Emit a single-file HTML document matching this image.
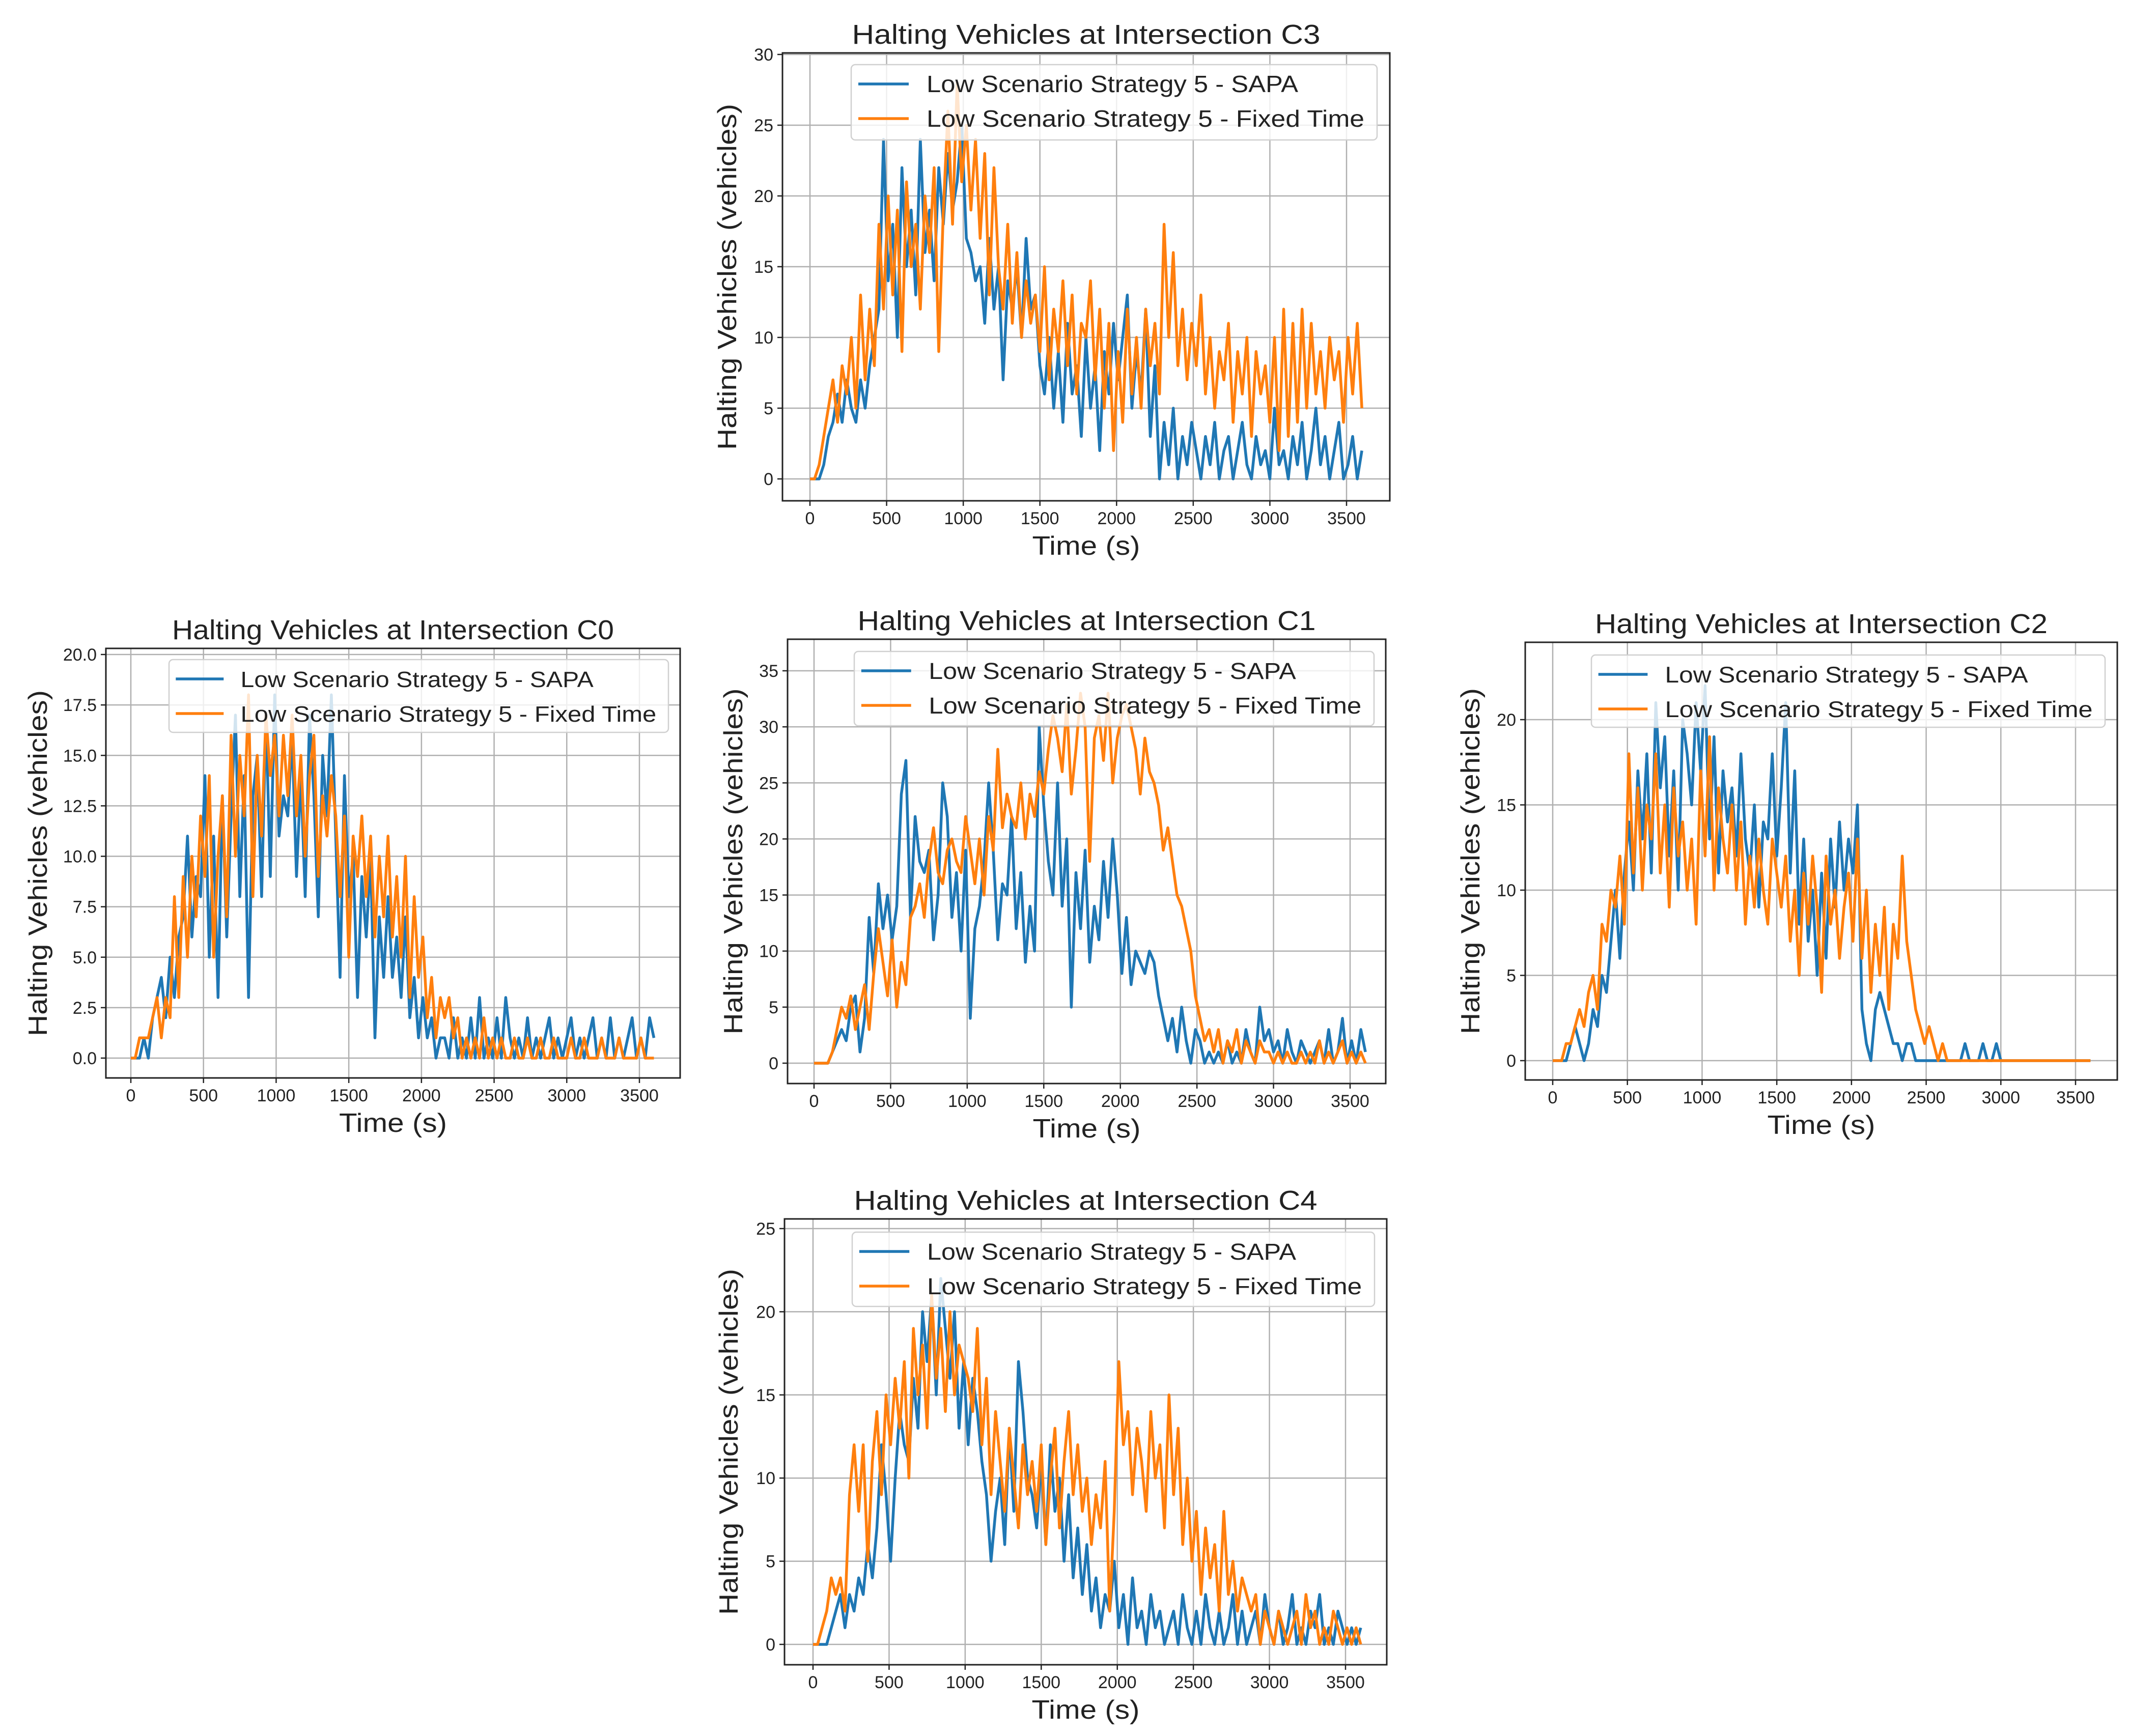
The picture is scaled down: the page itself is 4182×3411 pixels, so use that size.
<!DOCTYPE html>
<html><head><meta charset="utf-8">
<style>
html,body{margin:0;padding:0;background:#fff;}
svg{display:block;}
text{font-family:"Liberation Sans","DejaVu Sans",sans-serif;fill:#222;}
</style></head>
<body>
<svg id="fig" xmlns="http://www.w3.org/2000/svg" width="4182" height="3411" viewBox="0 0 4182 3411"></svg>
<script>
// ---- data (time step 30 s, 0..3600) ----
const timeStep = 30;
const xTickVals = [0,500,1000,1500,2000,2500,3000,3500];
const seriesNames = ["Low Scenario Strategy 5 - SAPA","Low Scenario Strategy 5 - Fixed Time"];

const c3Sapa = [0,0,0,1,3,4,6,4,7,5,4,7, 5,8,10,12,24,14,18,10,22,15,19,13, 24,16,19,14,22,18,23,19,21,25,17,16, 14,15,11,17,12,15,7,14,12,15,10,17, 12,13,8,6,10,5,9,4,11,6,8,3, 10,5,8,2,9,6,11,7,10,13,5,9, 6,12,3,8,0,4,1,5,0,3,1,4, 2,0,3,1,4,0,2,3,0,2,4,1, 0,3,1,2,0,5,1,2,0,3,1,4, 0,2,5,1,3,0,2,4,0,1,3,0, 2];
const c3Fixed = [0,0,1,3,5,7,4,8,6,10,5,13, 7,12,8,18,12,20,13,19,9,21,15,18, 12,20,16,22,9,19,26,18,28,21,25,19, 24,17,23,13,22,15,12,18,11,16,10,14, 11,13,9,15,7,12,9,14,8,13,6,11, 10,14,7,12,5,11,2,9,4,12,6,10, 5,12,8,11,6,18,10,16,8,12,7,11, 8,13,6,10,5,9,7,11,4,9,6,10, 3,9,6,8,4,10,2,12,3,11,4,12, 5,11,6,9,5,10,7,9,4,10,6,11, 5];
const c3YTicks = [0,5,10,15,20,25,30];

const c0Sapa = [0,0,0,1,0,2,3,4,2,5,3,6, 7,11,6,9,8,14,5,11,3,13,6,12, 17,8,14,3,13,15,8,17,9,18,11,13, 12,16,9,14,8,17,13,7,15,12,18,11, 4,14,8,10,3,9,6,10,1,7,4,8, 4,6,3,7,2,4,1,3,1,2,0,1, 1,0,2,0,1,0,2,0,3,0,1,0, 2,0,3,1,0,1,0,2,0,1,0,1, 2,0,1,0,1,2,0,1,0,1,2,0, 1,0,2,0,1,0,1,2,0,1,0,2, 1];
const c0Fixed = [0,0,1,1,1,2,3,1,3,2,8,3, 9,5,10,7,12,9,14,5,10,13,7,16, 10,15,12,18,8,15,11,17,14,16,12,16, 13,17,12,15,10,14,16,9,13,11,14,12, 8,12,5,11,9,12,8,11,6,10,7,11, 6,9,5,10,3,8,4,6,2,4,1,3, 2,3,1,2,0,1,0,1,0,2,0,1, 0,1,0,0,1,0,0,1,0,0,1,0, 0,1,0,0,0,1,0,0,1,0,0,0, 1,0,0,0,1,0,0,0,0,1,0,0, 0];
const c0YTicks = [0,2.5,5,7.5,10,12.5,15,17.5,20];

const c1Sapa = [0,0,0,0,1,2,3,2,5,6,1,4, 13,8,16,12,15,11,14,24,27,13,22,18, 17,19,11,15,25,22,13,17,10,19,4,12, 14,18,25,19,11,16,15,22,12,17,9,14, 10,30,23,18,15,25,14,20,5,17,12,19, 9,14,11,18,13,20,15,8,13,7,10,9, 8,10,9,6,4,2,4,1,5,2,0,3, 2,0,1,0,1,0,2,0,1,0,3,1, 0,5,2,3,1,2,0,3,1,0,2,1, 0,1,2,0,3,0,1,4,0,2,0,3, 1];
const c1Fixed = [0,0,0,0,1,3,5,4,6,3,5,7, 3,8,12,9,6,11,5,9,7,13,14,16, 13,18,21,17,16,19,20,18,17,22,19,16, 20,15,22,19,28,21,24,22,21,25,20,24, 22,26,24,28,31,29,26,32,24,28,33,30, 18,29,31,27,33,25,29,31,32,30,28,24, 29,26,25,23,19,21,18,15,14,12,10,6, 4,2,3,1,3,0,2,1,3,0,2,1, 0,2,1,1,0,1,0,1,0,0,1,0, 1,0,2,0,1,0,1,2,0,1,0,1, 0];
const c1YTicks = [0,5,10,15,20,25,30,35];

const c2Sapa = [0,0,0,0,1,2,1,0,1,3,2,5, 4,7,10,6,11,14,10,17,13,18,11,21, 16,19,12,17,10,20,18,15,21,17,22,13, 19,11,17,14,16,12,18,13,11,15,9,14, 13,18,12,16,21,11,17,8,13,7,10,5, 11,6,13,9,14,10,13,11,15,3,1,0, 3,4,3,2,1,1,0,1,1,0,0,0, 0,0,0,0,0,0,0,0,1,0,0,0, 1,0,0,1,0,0,0,0,0,0,0,0, 0,0,0,0,0,0,0,0,0,0,0,0, 0];
const c2Fixed = [0,0,0,1,1,2,3,2,4,5,3,8, 7,10,9,12,8,18,11,16,10,15,13,18, 11,15,9,16,12,14,10,13,8,17,12,19, 10,16,13,11,15,10,14,8,12,9,13,10, 8,13,11,9,12,7,10,5,11,8,12,9, 4,12,8,10,6,9,11,7,13,6,10,4, 8,5,9,3,8,6,12,7,5,3,2,1, 2,1,0,1,0,0,0,0,0,0,0,0, 0,0,0,0,0,0,0,0,0,0,0,0, 0,0,0,0,0,0,0,0,0,0,0,0, 0];
const c2YTicks = [0,5,10,15,20];

const c4Sapa = [0,0,0,0,1,2,3,1,3,2,4,3, 6,4,7,12,9,5,10,14,12,11,16,13, 20,17,21,15,22,19,16,20,13,17,12,16, 14,11,9,5,8,10,6,13,8,17,14,10, 9,7,11,6,12,8,10,5,9,4,7,3, 6,2,4,1,3,2,5,1,3,0,4,1, 2,0,3,1,2,0,1,2,0,3,1,0, 2,0,3,1,0,2,0,1,3,0,2,0, 1,2,0,3,1,0,2,0,1,3,0,1, 0,2,1,3,0,1,0,2,1,0,1,0, 1];
const c4Fixed = [0,0,1,2,4,3,4,2,9,12,8,12, 5,11,14,9,15,12,16,13,17,10,19,15, 18,13,21,16,19,14,20,15,18,17,16,14, 19,12,16,9,14,11,8,13,10,7,12,9, 11,8,12,6,10,13,7,11,14,9,12,8, 10,6,9,7,11,2,8,17,12,14,9,13, 11,8,14,10,12,7,15,9,13,6,10,5, 8,3,7,4,6,2,8,3,5,2,4,3, 2,3,0,2,1,0,2,1,0,1,2,0, 3,1,2,0,1,0,2,1,0,1,0,1, 0];
const c4YTicks = [0,5,10,15,20,25];

// ---- layout ----
const charts = [
 {id:"c3", title:"Halting Vehicles at Intersection C3", tl:920, sapa:c3Sapa, fixed:c3Fixed, yt:c3YTicks, dec:0,
  l:1537,r:2730,t:104,b:984, x0:1591,x1:2645, y0:941, yTopPx:107, yTopVal:30, yl:-108, lg:[1672,2705,127,275]},
 {id:"c0", title:"Halting Vehicles at Intersection C0", tl:868, sapa:c0Sapa, fixed:c0Fixed, yt:c0YTicks, dec:1,
  l:208,r:1336,t:1274,b:2118, x0:257,x1:1256, y0:2079, yTopPx:1286, yTopVal:20, yl:-133, lg:[332,1313,1296,1439]},
 {id:"c1", title:"Halting Vehicles at Intersection C1", tl:900, sapa:c1Sapa, fixed:c1Fixed, yt:c1YTicks, dec:0,
  l:1547,r:2722,t:1256,b:2129, x0:1599,x1:2652, y0:2089, yTopPx:1318, yTopVal:35, yl:-106, lg:[1678,2699,1280,1426]},
 {id:"c2", title:"Halting Vehicles at Intersection C2", tl:889, sapa:c2Sapa, fixed:c2Fixed, yt:c2YTicks, dec:0,
  l:2996,r:4159,t:1262,b:2122, x0:3050,x1:4077, y0:2084, yTopPx:1414, yTopVal:20, yl:-107, lg:[3126,4135,1287,1429]},
 {id:"c4", title:"Halting Vehicles at Intersection C4", tl:910, sapa:c4Sapa, fixed:c4Fixed, yt:c4YTicks, dec:0,
  l:1541,r:2724,t:2395,b:3271, x0:1597,x1:2643, y0:3231, yTopPx:2414, yTopVal:25, yl:-109, lg:[1674,2700,2421,2567]}
];
const NS="http://www.w3.org/2000/svg";
const svg=document.getElementById('fig');
function mk(tag,attrs,parent){const e=document.createElementNS(NS,tag);for(const k in attrs)e.setAttribute(k,attrs[k]);(parent||svg).appendChild(e);return e;}

charts.forEach(c=>{
  const g=mk('g',{});
  
  
  const xs=v=>c.x0+v*(c.x1-c.x0)/3500;
  const ys=v=>c.y0-v*(c.y0-c.yTopPx)/c.yTopVal;
  mk('rect',{x:c.l,y:c.t,width:c.r-c.l,height:c.b-c.t,fill:'#fff'},g);
  xTickVals.forEach(v=>{
    const X=xs(v);
    const gl=mk('line',{x1:X,x2:X,y1:c.t,y2:c.b,stroke:'#b0b0b0','stroke-width':2.5},g);
    
    
    mk('line',{x1:X,x2:X,y1:c.b,y2:c.b+10,stroke:'#222','stroke-width':2.5},g);
    const tx=mk('text',{x:X,y:c.b+46,'font-size':34,'text-anchor':'middle'},g);
    tx.textContent=v;
    
    
  });
  c.yt.forEach(v=>{
    const Y=ys(v);
    const gl=mk('line',{x1:c.l,x2:c.r,y1:Y,y2:Y,stroke:'#b0b0b0','stroke-width':2.5},g);
    
    
    mk('line',{x1:c.l-10,x2:c.l,y1:Y,y2:Y,stroke:'#222','stroke-width':2.5},g);
    const tx=mk('text',{x:c.l-18,y:Y+12,'font-size':34,'text-anchor':'end'},g);
    tx.textContent=v.toFixed(c.dec);
    
    
  });
  [[c.sapa,'#1f77b4','sapa-line'],[c.fixed,'#ff7f0e','fixed-time-line']].forEach(([arr,col,nm])=>{
    const pts=arr.map((v,i)=>xs(i*timeStep).toFixed(1)+','+ys(v).toFixed(1)).join(' ');
    const pl=mk('polyline',{points:pts,fill:'none',stroke:col,'stroke-width':5.5,'stroke-linejoin':'round'},g);
    
    
  });
  const fr=mk('rect',{x:c.l,y:c.t,width:c.r-c.l,height:c.b-c.t,fill:'none',stroke:'#222','stroke-width':3},g);
  
  
  // legend
  const [lx0,lx1,ly0,ly1]=c.lg;
  const sc=(lx1-lx0)/1033;
  const lgG=mk('g',{},g);
  
  
  mk('rect',{x:lx0,y:ly0,width:lx1-lx0,height:ly1-ly0,rx:8,fill:'#fff','fill-opacity':0.8,stroke:'#d0d0d0','stroke-width':2.5},lgG);
  [['#1f77b4',seriesNames[0],38,730],['#ff7f0e',seriesNames[1],106,860]].forEach(([col,txt,dy,tl])=>{
    mk('line',{x1:lx0+14*sc,x2:lx0+113*sc,y1:ly0+dy,y2:ly0+dy,stroke:col,'stroke-width':5.5},lgG);
    const t=mk('text',{x:lx0+148*sc,y:ly0+dy+16,'font-size':46*sc,textLength:tl*sc,lengthAdjust:'spacingAndGlyphs'},lgG);
    t.textContent=txt;
    
    
  });
  const ti=mk('text',{x:(c.l+c.r)/2,y:c.t-18,'font-size':54,'text-anchor':'middle',textLength:c.tl,lengthAdjust:'spacingAndGlyphs'},g);
  ti.textContent=c.title;
  
  
  const xl=mk('text',{x:(c.l+c.r)/2,y:c.b+106,'font-size':52,'text-anchor':'middle',textLength:212,lengthAdjust:'spacingAndGlyphs'},g);
  xl.textContent='Time (s)';
  
  
  const cx=c.l+c.yl, cy=(c.t+c.b)/2;
  const yl=mk('text',{x:cx,y:cy+17,'font-size':52,'text-anchor':'middle',textLength:680,lengthAdjust:'spacingAndGlyphs',transform:`rotate(-90 ${cx} ${cy})`},g);
  yl.textContent='Halting Vehicles (vehicles)';
  
  
});
</script>
</body></html>
